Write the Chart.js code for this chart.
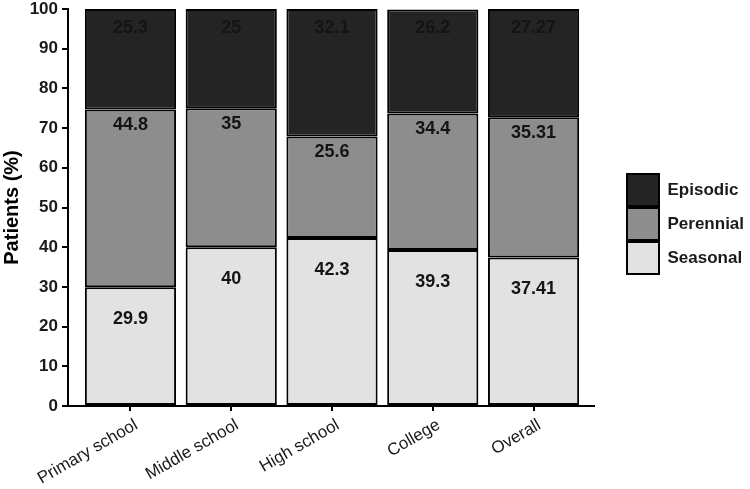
<!DOCTYPE html>
<html>
<head>
<meta charset="utf-8">
<script src="https://cdn.jsdelivr.net/npm/chart.js@4"></script>
<style>
  html, body { margin: 0; padding: 0; background: #fff; }
  #wrap { width: 750px; height: 489px; }
</style>
</head>
<body>
<div id="wrap"><canvas id="chart" width="750" height="489"></canvas></div>
<script>
// school level groups
const categories = ['Primary school', 'Middle school', 'High school', 'College', 'Overall'];
// percentages per type, bottom to top
const seasonal = [29.9, 40, 42.3, 39.3, 37.41];
const perennial = [44.8, 35, 25.6, 34.4, 35.31];
const episodic = [25.3, 25, 32.1, 26.2, 27.27];
const yTicks = [0, 10, 20, 30, 40, 50, 60, 70, 80, 90, 100];

const font = 'Liberation Sans, Arial, sans-serif';

// writes the value just under the top of each segment
const segmentLabels = {
    id: 'segmentLabels',
    afterDatasetsDraw(chart) {
        const ctx = chart.ctx;
        ctx.save();
        ctx.font = 'bold 18px ' + font;
        ctx.fillStyle = '#141414';
        ctx.textAlign = 'center';
        ctx.textBaseline = 'middle';
        chart.data.datasets.forEach((ds, di) => {
            const meta = chart.getDatasetMeta(di);
            meta.data.forEach((bar, i) => {
                ctx.fillText(String(ds.data[i].y), bar.x, bar.y + ds.labelOffset);
            });
        });
        ctx.restore();
    }
};

function toPoints(values) {
    return values.map((v, i) => ({ x: i, y: v }));
}

new Chart(document.getElementById('chart').getContext('2d'), {
    type: 'bar',
    data: {
        datasets: [
            { label: 'Seasonal', data: toPoints(seasonal), backgroundColor: '#e2e2e2', labelOffset: 32 },
            { label: 'Perennial', data: toPoints(perennial), backgroundColor: '#8d8d8d', labelOffset: 16 },
            { label: 'Episodic', data: toPoints(episodic), backgroundColor: '#242424', labelOffset: 19 }
        ]
    },
    options: {
        responsive: false,
        animation: false,
        layout: { padding: { top: 9, right: 0, left: 0, bottom: 0 } },
        datasets: {
            bar: {
                borderColor: '#000',
                borderWidth: 2,
                borderSkipped: false,
                categoryPercentage: 1,
                barPercentage: 0.905
            }
        },
        plugins: {
            tooltip: { enabled: false },
            legend: {
                position: 'right',
                align: 'start',
                reverse: true,
                // empty title only pushes the boxes down
                title: { display: true, text: '', font: { size: 10 }, padding: { top: 151, bottom: 0 } },
                labels: {
                    boxWidth: 32,
                    boxHeight: 32,
                    padding: 2,
                    color: '#1a1a1a',
                    font: { family: font, size: 17, weight: 'bold' }
                }
            }
        },
        scales: {
            x: {
                type: 'linear',
                stacked: true,
                offset: false,
                min: -0.62,
                max: 4.6,
                afterBuildTicks: s => { s.ticks = categories.map((c, i) => ({ value: i })); },
                afterFit: s => { s.height = 83; },
                grid: { drawOnChartArea: false, offset: false, tickLength: 5, color: '#000', lineWidth: 2 },
                border: { color: '#000', width: 2 },
                ticks: {
                    minRotation: 30,
                    maxRotation: 30,
                    padding: 4,
                    labelOffset: 6,
                    color: '#1a1a1a',
                    font: { family: font, size: 17 },
                    callback: v => categories[v]
                }
            },
            y: {
                stacked: true,
                min: 0,
                max: 100,
                afterBuildTicks: s => { s.ticks = yTicks.map(v => ({ value: v })); },
                afterFit: s => { s.width = 68; s.paddingTop = 0; s.paddingBottom = 0; },
                grid: { drawOnChartArea: false, tickLength: 6, color: '#000', lineWidth: 2 },
                border: { color: '#000', width: 2 },
                ticks: {
                    padding: 4,
                    color: '#1a1a1a',
                    font: { family: font, size: 17, weight: 'bold' }
                },
                title: {
                    display: true,
                    text: 'Patients (%)',
                    color: '#000',
                    padding: 0,
                    font: { family: font, size: 20, weight: 'bold' }
                }
            },
            // empty axis used as a gap between the plot and the legend
            gap: {
                position: 'right',
                display: true,
                afterFit: s => { s.width = 31; },
                grid: { display: false },
                border: { display: false },
                ticks: { display: false }
            }
        }
    },
    plugins: [segmentLabels]
});
</script>
</body>
</html>
